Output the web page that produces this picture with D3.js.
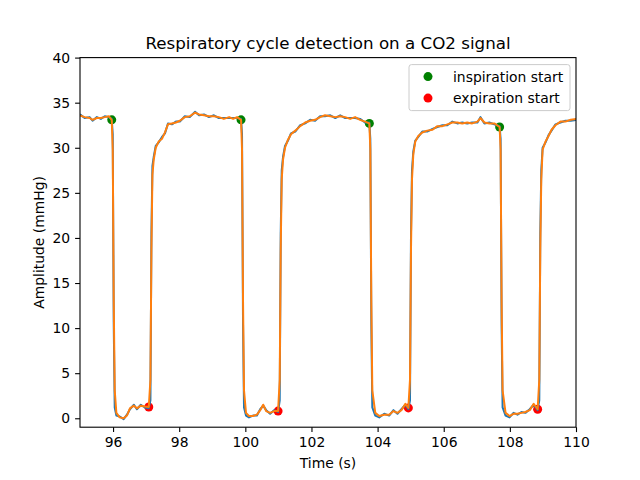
<!DOCTYPE html>
<html>
<head>
<meta charset="utf-8">
<script src="https://cdn.jsdelivr.net/npm/d3@7/dist/d3.min.js"></script>
<style>
  body { margin: 0; background: #fff; }
  svg { font-family: 'DejaVu Sans', sans-serif; }
</style>
</head>
<body>
<div id="chart"></div>
<script>
const time = [
  95.00, 95.14, 95.29, 95.38, 95.51, 95.63, 95.75, 95.87, 95.96, 95.99, 96.02, 96.05, 96.10, 96.20, 96.32, 96.42,
  96.51, 96.63, 96.72, 96.84, 96.96, 97.08, 97.13, 97.16, 97.19, 97.23, 97.29, 97.38, 97.48, 97.57, 97.66, 97.78,
  97.90, 98.02, 98.17, 98.32, 98.48, 98.60, 98.75, 98.90, 99.05, 99.20, 99.35, 99.51, 99.63, 99.75, 99.87,
  99.90, 99.93, 99.96, 100.02, 100.11, 100.23, 100.35, 100.45, 100.54, 100.63, 100.75, 100.87, 100.99,
  101.04, 101.07, 101.10, 101.14, 101.20, 101.29, 101.38, 101.51, 101.66, 101.81, 101.96, 102.11, 102.26,
  102.41, 102.57, 102.72, 102.87, 103.02, 103.17, 103.32, 103.47, 103.62, 103.75,
  103.78, 103.81, 103.84, 103.93, 104.05, 104.20, 104.35, 104.48, 104.60, 104.72, 104.84, 104.93,
  104.98, 105.01, 105.04, 105.08, 105.14, 105.23, 105.35, 105.50, 105.66, 105.81, 105.96, 106.11, 106.26,
  106.41, 106.56, 106.71, 106.86, 107.02, 107.11, 107.23, 107.38, 107.53, 107.69,
  107.72, 107.75, 107.78, 107.87, 107.99, 108.11, 108.23, 108.35, 108.47, 108.60, 108.72, 108.84,
  108.89, 108.92, 108.95, 108.99, 109.08, 109.17, 109.26, 109.38, 109.53, 109.68, 109.84, 110.02,
];

const co2Raw = [
  33.7, 33.3, 33.4, 33.0, 33.4, 33.2, 33.5, 33.4, 33.2, 31.5, 10.5, 1.2, 0.3, 0.2, -0.1, 0.4,
  1.0, 1.5, 1.0, 1.5, 1.2, 1.1, 2.0, 20.5, 28.0, 29.0, 30.2, 30.6, 31.2, 31.6, 32.7, 32.6,
  32.9, 32.9, 33.5, 33.4, 34.0, 33.6, 33.7, 33.4, 33.6, 33.3, 33.3, 33.3, 33.3, 33.3, 33.2,
  31.5, 10.5, 1.2, 0.3, 0.1, 0.3, 0.3, 1.0, 1.4, 0.9, 0.5, 0.9, 0.7,
  2.0, 20.5, 27.5, 29.0, 30.2, 30.8, 31.6, 31.8, 32.5, 32.7, 33.1, 33.0, 33.5,
  33.5, 33.6, 33.3, 33.6, 33.3, 33.3, 33.3, 33.2, 32.8, 32.8,
  31.0, 10.5, 1.2, 0.3, 0.1, 0.5, 0.3, 0.9, 0.5, 1.0, 1.5, 1.0,
  2.0, 20.5, 27.5, 29.6, 30.8, 31.2, 31.8, 31.8, 32.1, 32.3, 32.5, 32.5, 32.9,
  32.7, 32.8, 32.7, 32.8, 32.8, 33.4, 32.7, 32.8, 32.6, 32.4,
  31.0, 10.5, 1.2, 0.3, 0.1, 0.6, 0.4, 0.7, 0.6, 1.0, 1.5, 0.9,
  2.0, 20.5, 27.5, 30.0, 30.6, 31.4, 31.9, 32.6, 32.8, 33.0, 33.0, 33.1,
];

const co2Filtered = [
  33.6, 33.4, 33.3, 33.1, 33.3, 33.3, 33.4, 33.5, 33.1, 29.8, 13.1, 3.1, 0.6, 0.1, 0.0, 0.3,
  1.1, 1.4, 1.1, 1.4, 1.3, 1.25, 4.3, 18.7, 27.0, 28.7, 30.0, 30.7, 31.0, 31.7, 32.6, 32.7,
  32.8, 33.0, 33.4, 33.5, 33.9, 33.7, 33.6, 33.5, 33.5, 33.4, 33.2, 33.4, 33.2, 33.4, 33.1,
  29.8, 13.1, 3.1, 0.6, 0.25, 0.25, 0.4, 0.9, 1.5, 0.8, 0.6, 0.8, 0.8,
  4.3, 18.7, 26.5, 28.7, 30.0, 30.9, 31.5, 31.9, 32.4, 32.8, 33.0, 33.1, 33.4,
  33.6, 33.5, 33.4, 33.5, 33.4, 33.2, 33.4, 33.1, 32.9, 32.7,
  29.8, 13.1, 3.1, 0.6, 0.25, 0.4, 0.4, 0.8, 0.6, 0.9, 1.6, 1.15,
  4.3, 18.7, 26.5, 29.3, 30.7, 31.3, 31.7, 31.9, 32.0, 32.4, 32.4, 32.6, 32.8,
  32.8, 32.7, 32.8, 32.7, 32.9, 33.3, 32.8, 32.7, 32.7, 32.3,
  29.8, 13.1, 3.1, 0.6, 0.25, 0.5, 0.5, 0.6, 0.7, 0.9, 1.6, 1.0,
  4.3, 18.7, 26.5, 29.8, 30.7, 31.3, 32.0, 32.5, 32.9, 32.9, 33.1, 33.2,
];

const inspirationTime = [95.96, 99.87, 103.75, 107.69];
const inspirationValue = [33.1, 33.1, 32.7, 32.3];
const expirationTime = [97.08, 100.99, 104.93, 108.84];
const expirationValue = [1.25, 0.8, 1.15, 1.0];

const xTicks = [96, 98, 100, 102, 104, 106, 108, 110];
const yTicks = [0, 5, 10, 15, 20, 25, 30, 35, 40];

const style = {
  raw: { color: '#1f77b4', width: 2 },
  filtered: { color: '#ff7f0e', width: 2 },
  inspiration: '#008000',
  expiration: '#ff0000',
  markerRadius: 4.5,
  labels: { size: 13.9, color: '#000' },
};

const margin = { top: 57.6, right: 64, bottom: 52.8, left: 80 };
const width = 640 - margin.left - margin.right;
const height = 480 - margin.top - margin.bottom;

const x = d3.scaleLinear().domain([95, 110]).range([0, width]);
const y = d3.scaleLinear().domain([-0.99, 40]).range([height, 0]);

const svg = d3.select('#chart').append('svg')
  .attr('width', 640)
  .attr('height', 480)
  .append('g')
  .attr('transform', `translate(${margin.left}, ${margin.top})`);

svg.append('defs').append('clipPath')
  .attr('id', 'plot-clip')
  .append('rect')
  .attr('width', width)
  .attr('height', height);

const plot = svg.append('g').attr('clip-path', 'url(#plot-clip)');

// markers sit under the lines, like the original
plot.selectAll('.insp')
  .data(inspirationTime)
  .enter().append('circle')
  .attr('cx', (d) => x(d))
  .attr('cy', (d, i) => y(inspirationValue[i]))
  .attr('r', style.markerRadius)
  .attr('fill', style.inspiration);

plot.selectAll('.exp')
  .data(expirationTime)
  .enter().append('circle')
  .attr('cx', (d) => x(d))
  .attr('cy', (d, i) => y(expirationValue[i]))
  .attr('r', style.markerRadius)
  .attr('fill', style.expiration);

const line = (values) => d3.line()
  .x((d) => x(d))
  .y((d, i) => y(values[i]))(time);

plot.append('path')
  .attr('d', line(co2Raw))
  .attr('fill', 'none')
  .attr('stroke', style.raw.color)
  .attr('stroke-width', style.raw.width)
  .attr('stroke-linejoin', 'round');

plot.append('path')
  .attr('d', line(co2Filtered))
  .attr('fill', 'none')
  .attr('stroke', style.filtered.color)
  .attr('stroke-width', style.filtered.width)
  .attr('stroke-linejoin', 'round');

// axes
const xAxis = d3.axisBottom(x).tickValues(xTicks).tickSize(4.9).tickPadding(4.9).tickFormat(d3.format('d'));
const yAxis = d3.axisLeft(y).tickValues(yTicks).tickSize(4.9).tickPadding(4.9).tickFormat(d3.format('d'));

svg.append('g')
  .attr('class', 'x-axis')
  .attr('transform', `translate(0, ${height})`)
  .call(xAxis);

svg.append('g')
  .attr('class', 'y-axis')
  .call(yAxis);

svg.selectAll('.x-axis .domain, .y-axis .domain').remove();
svg.selectAll('.tick line').attr('stroke', '#000').attr('stroke-width', 1.1);
svg.selectAll('.tick text')
  .attr('font-size', style.labels.size)
  .attr('font-family', 'DejaVu Sans')
  .attr('fill', style.labels.color);

// frame
svg.append('rect')
  .attr('width', width)
  .attr('height', height)
  .attr('fill', 'none')
  .attr('stroke', '#000')
  .attr('stroke-width', 1.1);

svg.append('text')
  .attr('x', width / 2)
  .attr('y', -9)
  .attr('text-anchor', 'middle')
  .attr('font-size', 16.7)
  .text('Respiratory cycle detection on a CO2 signal');

svg.append('text')
  .attr('x', width / 2)
  .attr('y', height + 41)
  .attr('text-anchor', 'middle')
  .attr('font-size', style.labels.size)
  .text('Time (s)');

svg.append('text')
  .attr('transform', `translate(${-36}, ${height / 2}) rotate(-90)`)
  .attr('text-anchor', 'middle')
  .attr('font-size', style.labels.size)
  .text('Amplitude (mmHg)');

// legend
const legendItems = [
  { label: 'inspiration start', color: style.inspiration },
  { label: 'expiration start', color: style.expiration },
];
const legend = svg.append('g').attr('transform', `translate(${width - 167}, 7)`);
legend.append('rect')
  .attr('width', 161)
  .attr('height', 46)
  .attr('rx', 2.5)
  .attr('fill', 'rgba(255,255,255,0.8)')
  .attr('stroke', '#cccccc')
  .attr('stroke-width', 1);
legendItems.forEach((item, i) => {
  const row = legend.append('g').attr('transform', `translate(0, ${12 + i * 21.5})`);
  row.append('circle')
    .attr('cx', 19)
    .attr('cy', 0)
    .attr('r', style.markerRadius)
    .attr('fill', item.color);
  row.append('text')
    .attr('x', 44)
    .attr('y', 5)
    .attr('font-size', style.labels.size)
    .text(item.label);
});
</script>
</body>
</html>
